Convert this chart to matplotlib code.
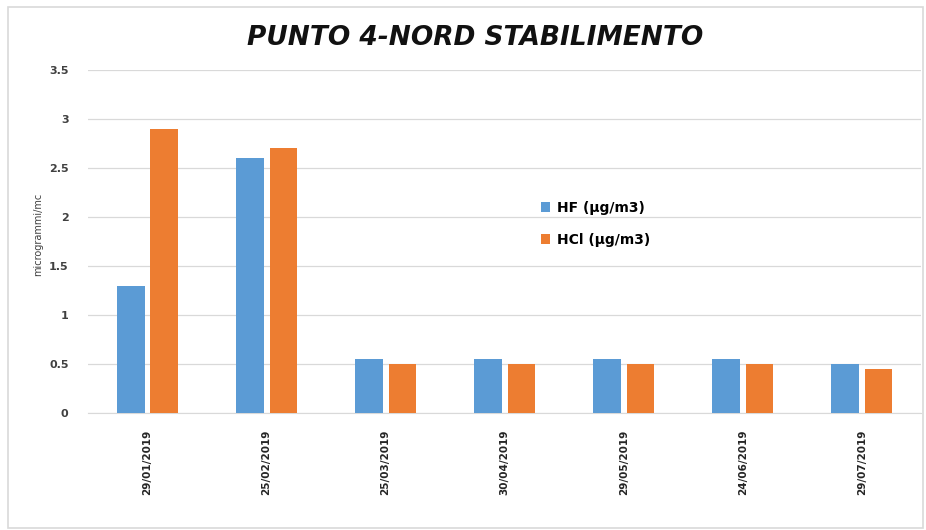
import numpy as np
import matplotlib.pyplot as plt
from matplotlib.patches import Rectangle

dates = ['29/01/2019', '25/02/2019', '25/03/2019', '30/04/2019',
         '29/05/2019', '24/06/2019', '29/07/2019']
hf = [1.3, 2.6, 0.55, 0.55, 0.55, 0.55, 0.5]
hcl = [2.9, 2.7, 0.5, 0.5, 0.5, 0.5, 0.45]
yticks = [0, 0.5, 1, 1.5, 2, 2.5, 3, 3.5]
ytick_labels = ['0', '0.5', '1', '1.5', '2', '2.5', '3', '3.5']

blue = '#5b9bd5'
orange = '#ed7d31'

fig = plt.figure(figsize=(9.26, 5.3), dpi=100)
ax = fig.add_axes([0.095, 0.2208, 0.9, 0.6472])

x = np.arange(len(dates))
w = 0.23
ax.bar(x - 0.14, hf, w, color=blue, label='HF (µg/m3)', zorder=3)
ax.bar(x + 0.14, hcl, w, color=orange, label='HCl (µg/m3)', zorder=3)

ax.set_xlim(-0.5, len(dates) - 0.5)
ax.set_ylim(0, 3.5)
ax.set_yticks(yticks)
ax.set_yticklabels(ytick_labels, fontsize=8, fontweight='bold', color='#404040')
ax.set_xticks(x)
ax.set_xticklabels(dates, rotation=90, fontsize=7.5, fontweight='bold', color='#262626')
ax.tick_params(axis='y', length=0, pad=14)
ax.tick_params(axis='x', length=0, pad=12)
ax.grid(axis='y', color='#d9d9d9', linewidth=0.9, zorder=0)
for s in ['top', 'right', 'left']:
    ax.spines[s].set_visible(False)
ax.spines['bottom'].set_color('#d9d9d9')

ax.set_ylabel('microgrammi/mc', fontsize=7, color='#404040')
ax.yaxis.set_label_coords(-0.054, 0.52)

fig.text(0.513, 0.928, 'PUNTO 4-NORD STABILIMENTO', ha='center', va='center',
         fontsize=19, fontweight='bold', fontstyle='italic', color='#111111')

ax.legend(loc='upper left', bbox_to_anchor=(0.528, 0.655), frameon=False,
          prop={'weight': 'bold', 'size': 10},
          handlelength=0.7, handleheight=0.7, labelspacing=1.3, handletextpad=0.5)

# light frame round the chart area
fig.patches.append(Rectangle((0.009, 0.004), 0.988, 0.983, transform=fig.transFigure,
                             fill=False, edgecolor='#d9d9d9', linewidth=1.2))

fig.savefig('out.png', dpi=100)
